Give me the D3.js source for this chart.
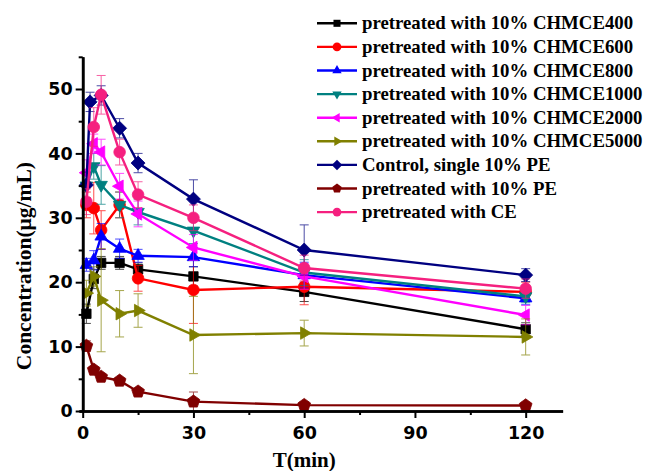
<!DOCTYPE html>
<html>
<head>
<meta charset="utf-8">
<script src="https://cdn.jsdelivr.net/npm/d3@7"></script>
<style>
  body { margin: 0; background: #fff; }
  svg { display: block; }
</style>
</head>
<body>
<svg id="chart" width="647" height="471"></svg>
<script>
// Sampling times (min)
const times = [1, 3, 5, 10, 15, 30, 60, 120];
const timesControl = [1, 2, 5, 10, 15, 30, 60, 120];

// Legend labels
const labels = [
  "pretreated with 10% CHMCE400",
  "pretreated with 10% CHMCE600",
  "pretreated with 10% CHMCE800",
  "pretreated with 10% CHMCE1000",
  "pretreated with 10% CHMCE2000",
  "pretreated with 10% CHMCE5000",
  "Control, single 10% PE",
  "pretreated with 10% PE",
  "pretreated with CE"
];

// Mean concentrations (µg/mL)
const chmce400  = [15.1, 20.5, 23.0, 23.0, 22.0, 20.9, 18.5, 12.7];
const chmce600  = [32.0, 31.5, 28.1, 32.0, 20.6, 18.8, 19.3, 18.5];
const chmce800  = [22.7, 23.4, 27.1, 25.2, 24.1, 23.9, 21.1, 17.5];
const chmce1000 = [35.0, 38.0, 35.1, 32.0, 30.9, 28.0, 21.5, 17.8];
const chmce2000 = [37.0, 41.5, 40.2, 34.9, 30.6, 25.4, 20.9, 14.9];
const chmce5000 = [18.3, 20.9, 17.2, 15.1, 15.6, 11.8, 12.1, 11.5];
const controlPE = [35.1, 48.0, 49.0, 43.9, 38.5, 32.9, 25.0, 21.1];
const pePE      = [10.1, 6.4, 5.3, 4.7, 3.0, 1.45, 0.92, 0.85];
const ceCE      = [32.5, 44.1, 49.1, 40.2, 33.6, 30.0, 22.2, 19.0];

// Standard deviations
const chmce400Err  = [1.5, 1.5, 1.0, 1.0, 1.0, 1.5, 1.5, 1.0];
const chmce600Err  = [2.0, 4.0, 3.0, 2.0, 2.0, 5.2, 2.8, 1.5];
const chmce800Err  = [1.0, 1.5, 2.0, 1.5, 1.0, 1.5, 2.0, 1.0];
const chmce1000Err = [2.0, 2.0, 3.0, 2.0, 2.0, 2.0, 2.0, 1.0];
const chmce2000Err = [2.0, 1.5, 2.0, 2.0, 2.0, 2.0, 2.0, 1.5];
const chmce5000Err = [2.0, 1.5, 8.0, 3.6, 2.6, 6.0, 2.0, 2.8];
const controlErr   = [2.0, 1.5, 1.5, 1.5, 1.5, 3.0, 3.9, 1.0];
const peErr        = [0.8, 0.5, 0.5, 0.5, 0.5, 1.5, 0.5, 0.5];
const ceErr        = [2.0, 3.0, 3.0, 2.0, 2.0, 2.0, 2.0, 1.5];

// Axis ticks
const xMajor = [0, 30, 60, 90, 120];
const xMinor = [15, 45, 75, 105];
const yMajor = [0, 10, 20, 30, 40, 50];
const yMinor = [5, 15, 25, 35, 45, 55];

const series = [
  { name: labels[0], t: times,        v: chmce400,  e: chmce400Err,  color: "#000000", shape: "square" },
  { name: labels[1], t: times,        v: chmce600,  e: chmce600Err,  color: "#ff0000", shape: "circle" },
  { name: labels[2], t: times,        v: chmce800,  e: chmce800Err,  color: "#0000ff", shape: "triUp" },
  { name: labels[3], t: times,        v: chmce1000, e: chmce1000Err, color: "#008080", shape: "triDown" },
  { name: labels[4], t: times,        v: chmce2000, e: chmce2000Err, color: "#ff00ff", shape: "triLeft" },
  { name: labels[5], t: times,        v: chmce5000, e: chmce5000Err, color: "#808000", shape: "triRight" },
  { name: labels[6], t: timesControl, v: controlPE, e: controlErr,   color: "#000080", shape: "diamond" },
  { name: labels[7], t: times,        v: pePE,      e: peErr,        color: "#800000", shape: "pentagon" },
  { name: labels[8], t: times,        v: ceCE,      e: ceErr,        color: "#f5207f", shape: "circle" }
];

const svg = d3.select("#chart");

const x = d3.scaleLinear().domain([-1, 130]).range([79.0, 562.6]);
const y = d3.scaleLinear().domain([0, 55]).range([411, 56.8]);

// Marker shapes
function polygon(n, r, rot) {
  const pts = d3.range(n).map(k => {
    const a = rot + 2 * Math.PI * k / n;
    return [r * Math.cos(a), r * Math.sin(a)];
  });
  return "M" + pts.map(p => p[0].toFixed(2) + "," + p[1].toFixed(2)).join("L") + "Z";
}
function markerPath(shape, s) {
  switch (shape) {
    case "square":   { const h = 4.7 * s; return `M${-h},${-h}h${2*h}v${2*h}h${-2*h}Z`; }
    case "circle":   { const r = 5.8 * s; return `M${r},0A${r},${r} 0 1 1 ${-r},0A${r},${r} 0 1 1 ${r},0Z`; }
    case "triUp":    return polygon(3, 7.2 * s, -Math.PI / 2);
    case "triDown":  return polygon(3, 7.2 * s, Math.PI / 2);
    case "triLeft":  return polygon(3, 7.2 * s, Math.PI);
    case "triRight": return polygon(3, 7.2 * s, 0);
    case "diamond":  return polygon(4, 7.0 * s, -Math.PI / 2);
    case "pentagon": return polygon(5, 6.7 * s, -Math.PI / 2);
  }
}

const line = d3.line().x(d => x(d.t)).y(d => y(d.v));

// Series: error bars, connecting line, markers
const plot = svg.append("g");
series.forEach(sr => {
  const pts = sr.t.map((t, i) => ({ t, v: sr.v[i], e: sr.e[i] }));
  const g = plot.append("g");
  const eb = g.append("g").attr("stroke", sr.color).attr("stroke-width", 1).attr("opacity", 0.7);
  pts.forEach(p => {
    const cx = x(p.t), y1 = y(p.v + p.e), y2 = y(Math.max(0, p.v - p.e));
    eb.append("line").attr("x1", cx).attr("x2", cx).attr("y1", y1).attr("y2", y2);
    eb.append("line").attr("x1", cx - 4.5).attr("x2", cx + 4.5).attr("y1", y1).attr("y2", y1);
    eb.append("line").attr("x1", cx - 4.5).attr("x2", cx + 4.5).attr("y1", y2).attr("y2", y2);
  });
  g.append("path").datum(pts).attr("d", line)
    .attr("fill", "none").attr("stroke", sr.color).attr("stroke-width", 2.4);
  g.selectAll("path.mk").data(pts).join("path").attr("class", "mk")
    .attr("d", markerPath(sr.shape, 1))
    .attr("transform", d => `translate(${x(d.t)},${y(d.v)})`)
    .attr("fill", sr.color).attr("stroke", sr.color).attr("stroke-width", 0.8);
});

// Axes
const tickFont = "'DejaVu Sans', sans-serif";
const xAxis = svg.append("g").attr("transform", `translate(0,${y(0)})`)
  .call(d3.axisBottom(x).tickValues(xMajor).tickSize(7).tickSizeOuter(0).tickPadding(9).tickFormat(d3.format("d")));
const xAxisMinor = svg.append("g").attr("transform", `translate(0,${y(0)})`)
  .call(d3.axisBottom(x).tickValues(xMinor).tickSize(4).tickSizeOuter(0).tickFormat(""));
const yAxis = svg.append("g").attr("transform", `translate(${x(0)},0)`)
  .call(d3.axisLeft(y).tickValues(yMajor).tickSize(7).tickSizeOuter(0).tickPadding(3).tickFormat(d3.format("d")));
const yAxisMinor = svg.append("g").attr("transform", `translate(${x(0)},0)`)
  .call(d3.axisLeft(y).tickValues(yMinor).tickSize(4).tickSizeOuter(0).tickFormat(""));

[xAxis, xAxisMinor, yAxis, yAxisMinor].forEach(a => {
  a.select(".domain").attr("stroke", "#000").attr("stroke-width", 2.6);
  a.selectAll(".tick line").attr("stroke", "#000").attr("stroke-width", 2);
  a.selectAll(".tick text").attr("fill", "#000")
    .style("font-family", tickFont).style("font-weight", "bold").style("font-size", "17.5px");
});

// Axis titles
const titleFont = "'Liberation Serif', 'Times New Roman', serif";
svg.append("text")
  .attr("x", x(60)).attr("y", 467)
  .attr("text-anchor", "middle")
  .style("font-family", titleFont).style("font-weight", "bold").style("font-size", "21px")
  .text("T(min)");
svg.append("text")
  .attr("transform", `translate(31,${y(22.5)}) rotate(-90)`)
  .attr("text-anchor", "middle")
  .style("font-family", titleFont).style("font-weight", "bold").style("font-size", "21.5px")
  .text("Concentration(μg/mL)");

// Legend
const legend = svg.append("g");
series.forEach((sr, i) => {
  const ly = 23.3 + i * 23.6;
  const row = legend.append("g").attr("transform", `translate(0,${ly})`);
  row.append("line").attr("x1", 317).attr("x2", 357).attr("y1", 0).attr("y2", 0)
    .attr("stroke", sr.color).attr("stroke-width", 2.4);
  row.append("path").attr("d", markerPath(sr.shape, 0.75))
    .attr("transform", "translate(337,0)").attr("fill", sr.color);
  row.append("text").attr("x", 362).attr("y", 6)
    .style("font-family", titleFont).style("font-weight", "bold").style("font-size", "18.8px")
    .text(sr.name);
});
</script>
</body>
</html>
